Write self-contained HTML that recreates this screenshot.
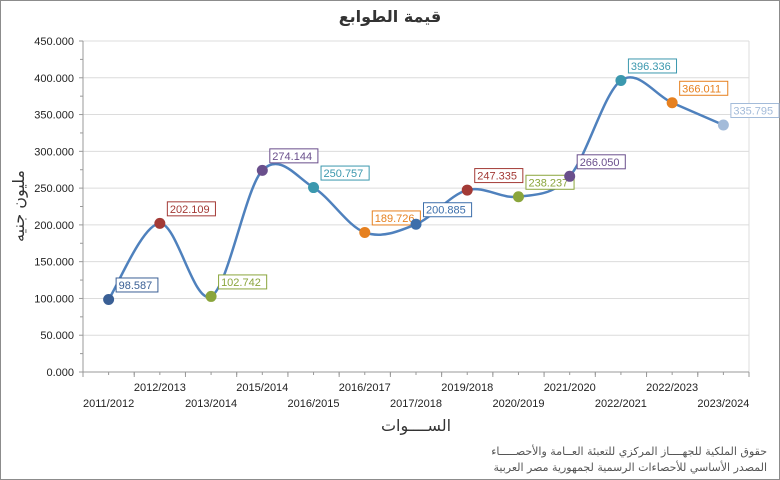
<!DOCTYPE html>
<html><head><meta charset="utf-8"><style>
html,body{margin:0;padding:0;background:#fff}
svg{display:block;font-family:"Liberation Sans","DejaVu Sans",sans-serif}
</style></head><body>
<svg id="s" width="780" height="480" viewBox="0 0 780 480" xmlns="http://www.w3.org/2000/svg">
<rect x="0.5" y="0.5" width="779" height="479" fill="#fff" stroke="#8c8c8c"/>
<text x="390" y="22" text-anchor="middle" font-size="16" font-weight="bold" fill="#333" font-family="'DejaVu Sans',sans-serif">قيمة الطوابع</text>
<g id="grid"></g>
<text transform="translate(24,206) rotate(-90)" text-anchor="middle" font-size="16" fill="#333" font-family="'DejaVu Sans',sans-serif">مليون جنيه</text>
<text x="416" y="431" text-anchor="middle" font-size="16" fill="#333" font-family="'DejaVu Sans',sans-serif">الســــوات</text>
<text x="767" y="455" text-anchor="end" font-size="11" fill="#555" font-family="'DejaVu Sans',sans-serif">حقوق الملكية للجهــــاز المركزي للتعبئة العــامة والأحصـــــاء</text>
<text x="767" y="471" text-anchor="end" font-size="11" fill="#555" font-family="'DejaVu Sans',sans-serif">المصدر الأساسي للأحصاءات الرسمية لجمهورية مصر العربية</text>
</svg>
<script>
var s=document.getElementById('s'),g=document.getElementById('grid'),NS='http://www.w3.org/2000/svg';
function el(t,a,p,txt){var e=document.createElementNS(NS,t);for(var k in a)e.setAttribute(k,a[k]);if(txt!=null)e.textContent=txt;(p||s).appendChild(e);return e;}
var X0=83,X1=749,Y0=372,Y1=41;
function Y(v){return Y0-v/450000*(Y0-Y1);}
for(var i=0;i<=9;i++){var y=Y(i*50000);
 if(i>0)el('line',{x1:X0,x2:X1,y1:y,y2:y,stroke:'#dcdcdc'},g);
 el('line',{x1:79,x2:83,y1:y,y2:y,stroke:'#999'},g);
 el('text',{x:74,y:y+4,'text-anchor':'end','font-size':11,fill:'#222'},g,(i*50).toFixed(0)+'.000'.replace(/^/,'')); }
// fix labels format
var ts=g.querySelectorAll('text');for(var i=0;i<ts.length;i++){var v=i*50;ts[i].textContent=(v==0?'0':v)+'.000';}
for(var i=0;i<9;i++){var y=Y(i*50000+25000);el('line',{x1:80,x2:83,y1:y,y2:y,stroke:'#999'},g);}
el('line',{x1:X1,x2:X1,y1:Y1,y2:Y0,stroke:'#dcdcdc'},g);
el('line',{x1:X0,x2:X0,y1:Y1,y2:Y0,stroke:'#999'},g);
el('line',{x1:X0,x2:X1,y1:Y0,y2:Y0,stroke:'#999'},g);
var cats=['2011/2012','2012/2013','2013/2014','2015/2014','2016/2015','2016/2017','2017/2018','2019/2018','2020/2019','2021/2020','2022/2021','2022/2023','2023/2024'];
var vals=[98587,202109,102742,274144,250757,189726,200885,247335,238237,266050,396336,366011,335795];
var cols=['#3a5f95','#a33a36','#8aa53c','#6a4f8c','#3b98ae','#e6801f','#3d6fab','#a33a36','#8aa53c','#6a4f8c','#3b98ae','#e6801f','#a3bbd9'];
var W=(X1-X0)/13;
for(var i=0;i<=13;i++){var x=X0+i*W;el('line',{x1:x,x2:x,y1:Y0,y2:Y0+5,stroke:'#999'},g);}
for(var i=0;i<26;i++){var x=X0+i*W/2;el('line',{x1:x,x2:x,y1:Y0,y2:Y0+3,stroke:'#999'},g);}
var P=[];
for(var i=0;i<13;i++){var x=X0+W*(i+0.5);P.push([x,Y(vals[i])]);
 el('text',{x:x,y:i%2?391:407,'text-anchor':'middle','font-size':11,fill:'#222'},g,cats[i]);}
var d='M'+P[0][0]+','+P[0][1];
for(var i=0;i<12;i++){var p0=P[Math.max(0,i-1)],p1=P[i],p2=P[i+1],p3=P[Math.min(12,i+2)];
 d+=' C'+(p1[0]+(p2[0]-p0[0])/6)+','+(p1[1]+(p2[1]-p0[1])/6)+' '+(p2[0]-(p3[0]-p1[0])/6)+','+(p2[1]-(p3[1]-p1[1])/6)+' '+p2[0]+','+p2[1];}
el('path',{d:d,fill:'none',stroke:'#4f81bd','stroke-width':2.5});
for(var i=0;i<13;i++){var p=P[i],t=(vals[i]/1000).toFixed(3);
 var w=t.length*6.3+4;
 el('rect',{x:p[0]+7.5,y:p[1]-21.5,width:w,height:14,fill:'#fff',stroke:cols[i]});
 el('text',{x:p[0]+10,y:p[1]-10.5,'font-size':11,fill:cols[i]},null,t);
 el('circle',{cx:p[0],cy:p[1],r:5.5,fill:cols[i]});}
</script>
</body></html>
